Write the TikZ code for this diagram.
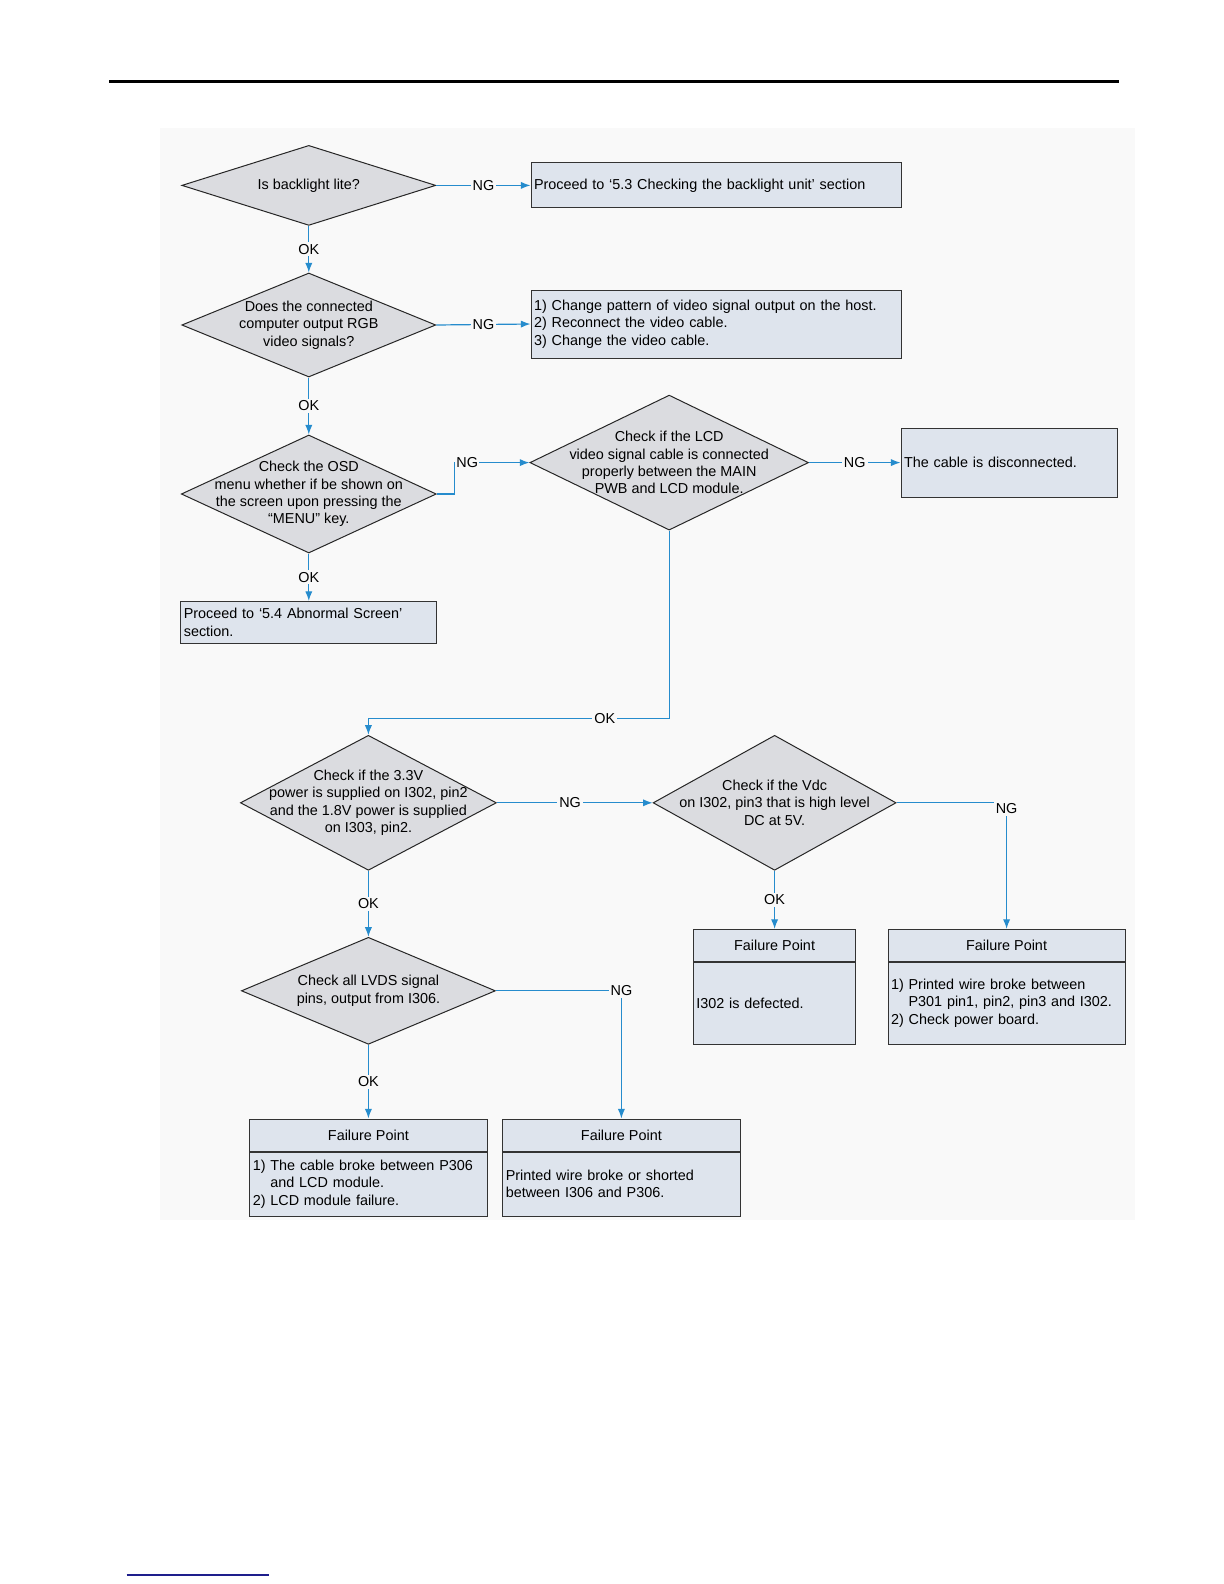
\documentclass[tikz,border=0pt]{standalone}
\usepackage{fontspec}
\setmainfont{Liberation Sans}
\usetikzlibrary{shapes,arrows.meta,positioning}

\definecolor{flowblue}{RGB}{38,140,205}
\definecolor{boxfill}{RGB}{222,228,237}
\definecolor{diafill}{RGB}{219,220,224}
\definecolor{panelbg}{RGB}{249,249,249}
\definecolor{footblue}{RGB}{30,30,140}

\begin{document}
\begin{tikzpicture}[x=1pt, y=-1pt,
    font=\fontsize{7.2}{8.7}\selectfont,
    decision/.style={diamond, draw=black!85, fill=diafill, line width=0.5pt, inner sep=0pt},
    dtext/.style={align=center},
    action/.style={rectangle, draw=black!80, fill=boxfill, line width=0.5pt, align=left, inner sep=1.5pt},
    failhead/.style={rectangle, draw=black!80, fill=boxfill, line width=0.5pt, inner sep=0pt},
    failbody/.style={rectangle, draw=black!80, fill=boxfill, line width=0.5pt, align=left, inner sep=1.5pt},
    arrow/.style={draw=flowblue, line width=0.6pt, -{Latex[length=4.8pt,width=3.6pt]}},
    lbl/.style={fill=panelbg, inner sep=1pt, text=black}
]
\useasboundingbox (0,0) rectangle (612,792);

% Page rules and panel
\draw[line width=1.5pt] (54.5,40.9) -- (559.5,40.9);
\draw[footblue, line width=0.7pt] (63.3,787.5) -- (134.5,787.5);
\fill[panelbg] (80,64) rectangle (567.5,610);

% Decisions
\node[decision, minimum width=127pt, minimum height=40pt,
      label={[dtext]center:{Is backlight lite?}}] (lite) at (154.4,92.7) {};
\node[decision, minimum width=127pt, minimum height=52pt,
      label={[dtext]center:{Does the connected\\computer output RGB\\video signals?}}] (rgb) at (154.4,162.5) {};
\node[decision, minimum width=127.5pt, minimum height=59pt,
      label={[dtext]center:{Check the OSD\\menu whether if be shown on\\the screen upon pressing the\\``MENU'' key.}}] (osd) at (154.4,247) {};
\node[decision, minimum width=139.3pt, minimum height=67.5pt,
      label={[dtext]center:{Check if the LCD\\video signal cable is connected\\properly between the MAIN\\PWB and LCD module.}}] (cable) at (334.6,231.3) {};
\node[decision, minimum width=128pt, minimum height=67.5pt,
      label={[dtext]center:{Check if the 3.3V\\power is supplied on I302, pin2\\and the 1.8V power is supplied\\on I303, pin2.}}] (volt) at (184.2,401.4) {};
\node[decision, minimum width=121.5pt, minimum height=67.5pt,
      label={[dtext]center:{Check if the Vdc\\on I302, pin3 that is high level\\DC at 5V.}}] (vdc) at (387.3,401.4) {};
\node[decision, minimum width=127pt, minimum height=53.5pt,
      label={[dtext]center:{Check all LVDS signal\\pins, output from I306.}}] (lvds) at (184.2,495.4) {};

% Actions
\node[action, text width=182pt, minimum height=22.5pt] (go53) at (358,92.7)
    {Proceed to `5.3 Checking the backlight unit' section};
\node[action, text width=182pt, minimum height=34pt] (host) at (358,162)
    {1) Change pattern of video signal output on the host.\\2) Reconnect the video cable.\\3) Change the video cable.};
\node[action, text width=125pt, minimum height=21pt] (go54) at (154.4,311.2)
    {Proceed to `5.4 Abnormal Screen'\\section.};
\node[action, text width=105pt, minimum height=34.5pt] (discon) at (504.5,231.3)
    {The cable is disconnected.};

% Failure points
\node[failhead, minimum width=81.3pt, minimum height=15.8pt] (defhead) at (387.3,472.6) {Failure Point};
\node[failbody, text width=78.3pt, minimum height=41.2pt, below=0pt of defhead] (defbody)
    {I302 is defected.};
\node[failhead, minimum width=118.6pt, minimum height=15.8pt] (boardhead) at (503.3,472.6) {Failure Point};
\node[failbody, text width=115.6pt, minimum height=41.2pt, below=0pt of boardhead] (boardbody)
    {1) Printed wire broke between\\\phantom{1) }P301 pin1, pin2, pin3 and I302.\\2) Check power board.};
\node[failhead, minimum width=118.6pt, minimum height=16pt] (lcdhead) at (184.2,567.5) {Failure Point};
\node[failbody, text width=115.6pt, minimum height=32pt, below=0pt of lcdhead] (lcdbody)
    {1) The cable broke between P306\\\phantom{1) }and LCD module.\\2) LCD module failure.};
\node[failhead, minimum width=118.6pt, minimum height=16pt] (wirehead) at (310.7,567.5) {Failure Point};
\node[failbody, text width=115.6pt, minimum height=32pt, below=0pt of wirehead] (wirebody)
    {Printed wire broke or shorted\\between I306 and P306.};

% Connectors
\draw[arrow] (lite.east) -- node[lbl]{NG} (go53.west);
\draw[arrow] (lite.south) -- node[lbl]{OK} (rgb.north);
\draw[arrow] (rgb.east) -- node[lbl]{NG} (host.west);
\draw[arrow] (rgb.south) -- node[lbl]{OK} (osd.north);
\draw[arrow] (osd.south) -- node[lbl]{OK} (go54.north);
\draw[arrow] (osd.east) -- ++(9,0) |- node[lbl, pos=0.5, anchor=west, inner sep=0.5pt]{NG} (cable.west);
\draw[arrow] (cable.east) -- node[lbl]{NG} (discon.west);
\draw[arrow] (cable.south) -- ++(0,94) -| node[lbl, pos=0.107]{OK} (volt.north);
\draw[arrow] (volt.east) -- node[lbl, pos=0.47]{NG} (vdc.west);
\draw[arrow] (vdc.east) -| node[lbl, pos=0.5, yshift=-3pt]{NG} (boardhead.north);
\draw[arrow] (vdc.south) -- node[lbl]{OK} (defhead.north);
\draw[arrow] (volt.south) -- node[lbl]{OK} (lvds.north);
\draw[arrow] (lvds.east) -| node[lbl, pos=0.5]{NG} (wirehead.north);
\draw[arrow] (lvds.south) -- node[lbl]{OK} (lcdhead.north);

\end{tikzpicture}
\end{document}
